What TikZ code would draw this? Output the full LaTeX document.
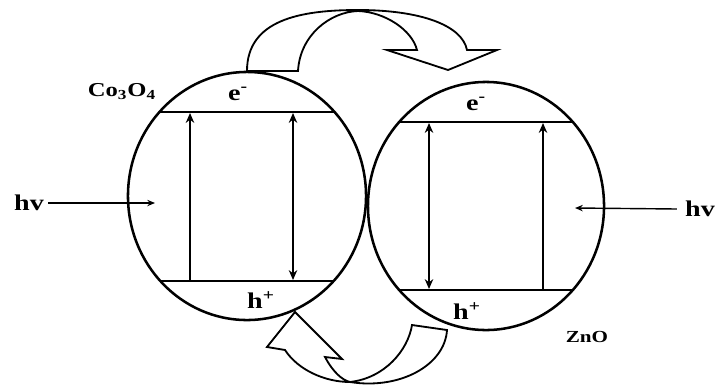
\documentclass[tikz,border=0pt]{standalone}
\usepackage{graphicx}
\usepackage{fontspec}
\setmainfont{Liberation Serif}
\usetikzlibrary{arrows.meta, positioning, calc}

\newcommand{\breed}[1]{\scalebox{1.25}[1]{#1}}

\begin{document}
\begin{tikzpicture}[
		x=0.025cm, y=-0.025cm,
		rand/.style={line width=1.8pt},
		niveau/.style={line width=1.4pt},
		overgang/.style={-{Stealth[length=7pt, width=6pt]}, line width=1.4pt},
		dubbel/.style={{Stealth[length=7pt, width=6pt]}-{Stealth[length=7pt, width=6pt]}, line width=1.4pt},
		licht/.style={-{Stealth[length=5.5pt, width=4.5pt]}, line width=1pt},
		lading/.style={font=\bfseries\fontsize{16}{18}\selectfont, inner sep=0pt},
		label/.style={font=\bfseries\fontsize{14}{16}\selectfont, inner sep=0pt},
		blokpijl/.style={line width=1.3pt, line join=miter}
	]
	\useasboundingbox (0,0) rectangle (715,389);

	% middelpunten van de twee deeltjes
	\coordinate (mL) at (247,196);
	\coordinate (mR) at (486,206);
	\draw[rand] (mL) ellipse [x radius=2.975cm, y radius=3.1cm];
	\draw[rand] (mR) ellipse [x radius=2.95cm, y radius=3.1cm];

	% banden Co3O4
	\coordinate (cbL1) at (160,112);
	\coordinate (cbL2) at (334,112);
	\coordinate (vbL1) at (161,281);
	\coordinate (vbL2) at (333,281);
	\draw[niveau] (cbL1) -- (cbL2);
	\draw[niveau] (vbL1) -- (vbL2);

	% banden ZnO
	\coordinate (cbR1) at (400,122);
	\coordinate (cbR2) at (572,122);
	\coordinate (vbR1) at (400,290);
	\coordinate (vbR2) at (572,290);
	\draw[niveau] (cbR1) -- (cbR2);
	\draw[niveau] (vbR1) -- (vbR2);

	% overgangen
	\coordinate (aL1) at (190,281);
	\coordinate (aL2) at (190,113);
	\coordinate (bL1) at (293,113);
	\coordinate (bL2) at (293,280);
	\coordinate (aR1) at (429,123);
	\coordinate (aR2) at (429,289);
	\coordinate (bR1) at (543,290);
	\coordinate (bR2) at (543,123);
	\draw[overgang] (aL1) -- (aL2);
	\draw[dubbel] (bL1) -- (bL2);
	\draw[dubbel] (aR1) -- (aR2);
	\draw[overgang] (bR1) -- (bR2);

	% labels
	\node[lading] (eLinks) at (238,94) {\breed{e\textsuperscript{-}}};
	\node[lading] (hLinks) at (261,300) {\breed{h\textsuperscript{+}}};
	\node[lading] (eRechts) at (476,104) {\breed{e\textsuperscript{-}}};
	\node[lading] (hRechts) at (467,311) {\breed{h\textsuperscript{+}}};
	\node[label] (co) at (122,92) {\breed{Co\textsubscript{3}O\textsubscript{4}}};
	\node[label, font=\bfseries\fontsize{12}{14}\selectfont] (zno) at (587,337) {\breed{ZnO}};

	% licht
	\node[lading] (hvLinks) at (29,203) {\breed{hv}};
	\node[lading] (hvRechts) at (700,209) {\breed{hv}};
	\coordinate (inL) at (155,203);
	\coordinate (inR) at (575,208);
	\draw[licht] (hvLinks.east) ++(4,0) coordinate (uitL) (uitL) -- (inL);
	\draw[licht] (hvRechts.west) ++(-8,0) coordinate (uitR) (uitR) -- (inR);

	% elektronenoverdracht (boven)
	\draw[blokpijl] (247,71) -- (298,71)
		.. controls (300,35) and (330,12) .. (358,11)
		.. controls (385,12) and (412,30) .. (417,50)
		-- (387,50) -- (448,70) -- (497,50) -- (467,50)
		.. controls (462,25) and (420,10) .. (358,10)
		.. controls (300,10) and (247,20) .. cycle;

	% gatenoverdracht (onder)
	\draw[blokpijl] (412,325) -- (447,330)
		.. controls (445,365) and (400,390) .. (350,382)
		.. controls (325,382) and (298,370) .. (285,350)
		-- (267,347) -- (295,312) -- (342,359) -- (325,357)
		.. controls (333,372) and (342,380) .. (350,382)
		.. controls (385,378) and (408,350) .. cycle;
\end{tikzpicture}
\end{document}
